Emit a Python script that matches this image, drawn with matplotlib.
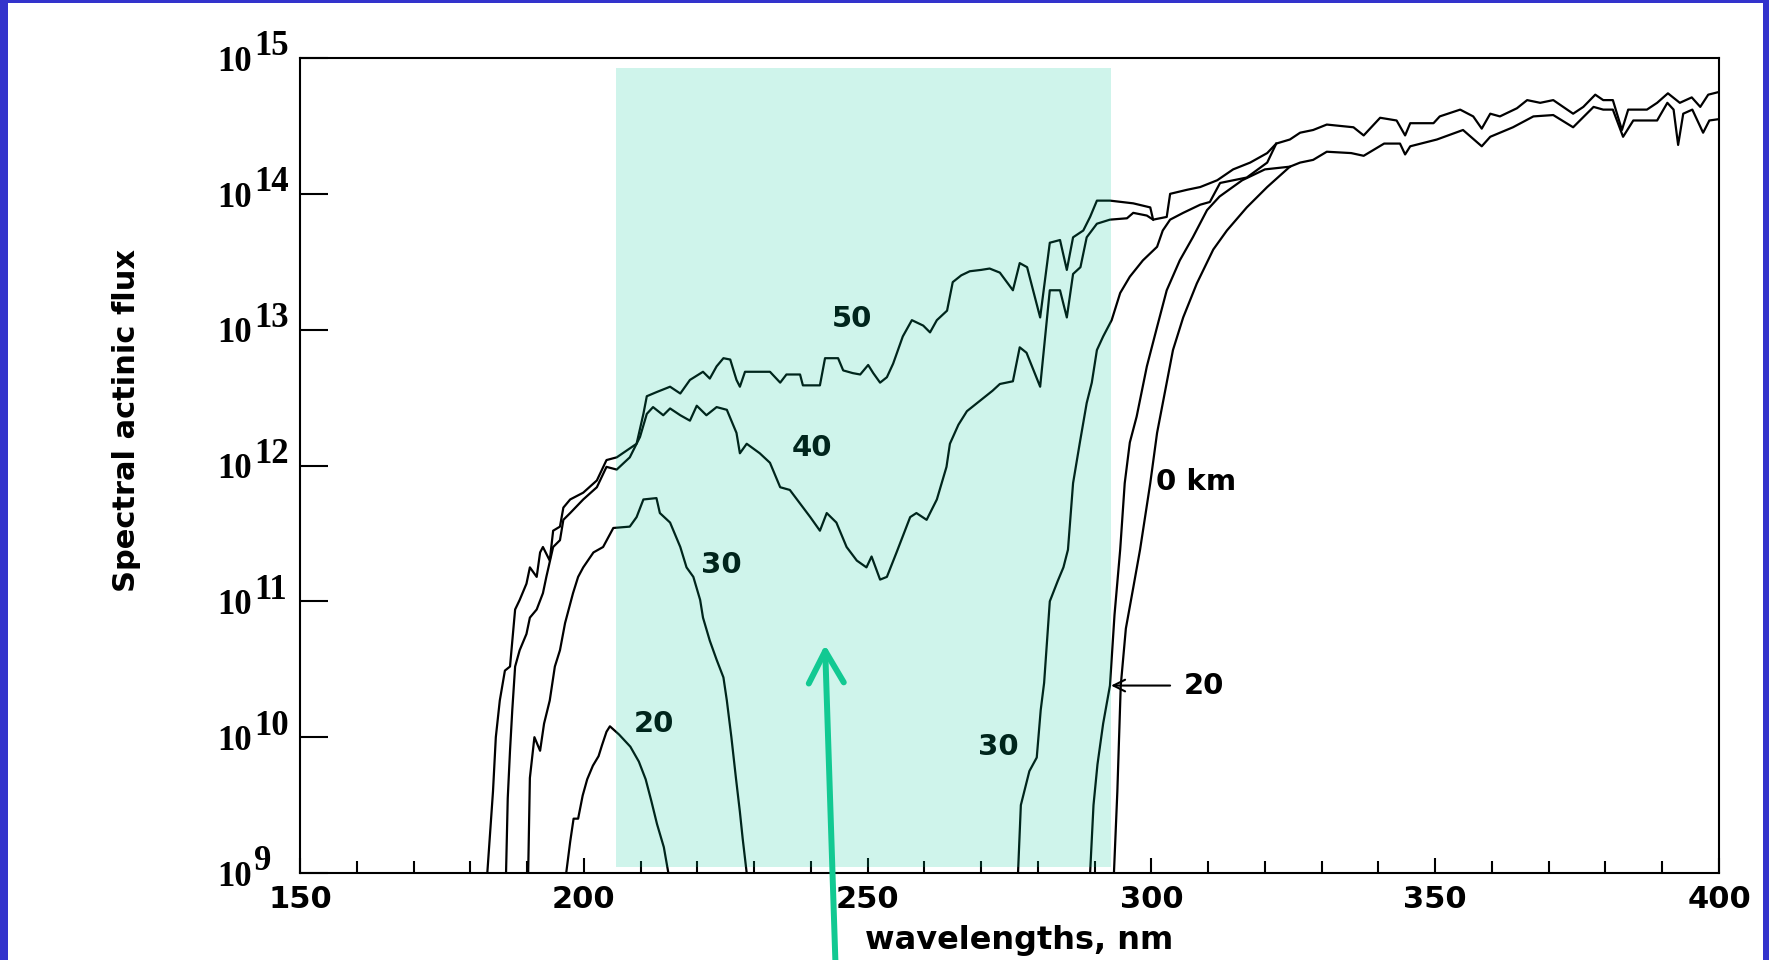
import numpy as np
import matplotlib.pyplot as plt
from matplotlib.patches import Rectangle, FancyArrowPatch
from matplotlib.ticker import NullLocator

# spectral actinic flux, log10 values, by altitude
wl_50 = [183.0, 183.5, 184.0, 184.5, 185.2, 186.1, 187.0, 187.9, 188.7, 189.9,
         190.5, 191.7, 192.3, 192.8, 194.0, 194.6, 195.8, 196.4, 197.6, 199.9,
         202.3, 204.0, 205.8, 209.3, 210.5, 211.1, 212.8, 215.2, 217.0, 218.7,
         221.0, 222.2, 223.4, 224.6, 225.8, 226.9, 227.5, 228.4, 232.8, 234.6,
         235.7, 238.1, 238.6, 241.6, 242.5, 244.8, 245.7, 247.4, 248.7, 250.1,
         251.0, 252.2, 253.4, 254.5, 256.2, 257.8, 259.8, 261.0, 262.2, 264.0,
         265.0, 266.5, 268.0, 270.0, 271.5, 273.3, 275.6, 276.8, 278.1, 280.4,
         282.1, 283.9, 285.1, 286.2, 288.0, 289.2, 290.4, 292.7, 296.8, 299.8,
         300.3, 302.7, 303.3, 306.3, 308.6, 311.6, 314.4, 317.4, 320.4, 322.0,
         324.4, 326.2, 328.5, 330.9, 335.6, 337.4, 340.3, 343.2, 344.7, 345.6,
         349.7, 350.8, 354.4, 356.7, 358.2, 359.7, 361.4, 364.4, 366.2, 368.5,
         370.8, 374.3, 376.1, 378.2, 379.6, 381.3, 382.9, 384.0, 387.3, 389.1,
         391.0, 393.1, 395.2, 396.7, 398.1, 400.0]
lf_50 = [9.0, 9.3, 9.6, 10.0, 10.27, 10.49, 10.52, 10.94, 11.01, 11.13,
         11.25, 11.18, 11.36, 11.40, 11.30, 11.52, 11.55, 11.69, 11.75, 11.80,
         11.89, 12.04, 12.06, 12.16, 12.38, 12.51, 12.54, 12.58, 12.53, 12.63,
         12.69, 12.64, 12.73, 12.79, 12.78, 12.63, 12.58, 12.69, 12.69, 12.61,
         12.67, 12.67, 12.59, 12.59, 12.79, 12.79, 12.70, 12.68, 12.67, 12.74,
         12.68, 12.61, 12.65, 12.75, 12.95, 13.07, 13.03, 12.98, 13.07, 13.14,
         13.35, 13.40, 13.43, 13.44, 13.45, 13.42, 13.29, 13.49, 13.46, 13.09,
         13.64, 13.66, 13.44, 13.68, 13.73, 13.83, 13.95, 13.95, 13.93, 13.90,
         13.81, 13.83, 14.00, 14.03, 14.05, 14.10, 14.18, 14.23, 14.30, 14.37,
         14.40, 14.45, 14.47, 14.51, 14.49, 14.43, 14.56, 14.54, 14.43, 14.52,
         14.52, 14.57, 14.62, 14.57, 14.48, 14.59, 14.57, 14.63, 14.69, 14.67,
         14.69, 14.59, 14.64, 14.73, 14.69, 14.69, 14.47, 14.62, 14.62, 14.67,
         14.74, 14.67, 14.71, 14.64, 14.73, 14.75]

wl_40 = [186.3, 186.6, 187.0, 187.4, 187.9, 188.7, 189.9, 190.5, 191.7, 192.8,
         193.4, 194.6, 195.8, 196.4, 197.6, 199.9, 202.3, 204.0, 205.8, 208.1,
         209.9, 211.1, 212.2, 214.0, 215.2, 217.0, 218.7, 219.9, 221.6, 223.4,
         225.2, 226.9, 227.5, 228.7, 231.0, 232.8, 234.6, 236.3, 238.1, 239.9,
         241.6, 242.8, 244.5, 246.3, 248.1, 249.8, 250.7, 252.2, 253.4, 255.1,
         257.5, 258.6, 260.4, 262.2, 263.9, 264.5, 266.0, 267.5, 269.0, 270.5,
         272.0, 273.3, 275.6, 276.8, 278.0, 280.4, 282.1, 283.9, 285.1, 286.2,
         287.5, 288.6, 290.4, 292.7, 295.7, 296.8, 299.2, 300.3]
lf_40 = [9.0, 9.55, 9.9, 10.2, 10.52, 10.64, 10.76, 10.88, 10.94, 11.06,
         11.18, 11.40, 11.45, 11.60, 11.65, 11.75, 11.84, 11.99, 11.97, 12.06,
         12.21, 12.38, 12.43, 12.37, 12.42, 12.37, 12.33, 12.44, 12.37, 12.43,
         12.41, 12.24, 12.09, 12.16, 12.09, 12.02, 11.84, 11.82, 11.72, 11.62,
         11.52, 11.65, 11.58, 11.40, 11.30, 11.25, 11.33, 11.16, 11.18, 11.36,
         11.62, 11.65, 11.60, 11.75, 11.99, 12.16, 12.30, 12.40, 12.45, 12.50,
         12.55, 12.60, 12.62, 12.87, 12.83, 12.58, 13.29, 13.29, 13.09, 13.41,
         13.46, 13.68, 13.78, 13.81, 13.82, 13.86, 13.84, 13.81]

wl_30_short = [190.2, 190.5, 191.3, 192.3, 193.0, 194.0, 194.9, 195.8, 196.7, 198.1,
               199.0, 199.9, 201.7, 203.4, 205.2, 208.1, 209.3, 210.5, 212.8, 213.4,
               215.2, 217.0, 218.1, 219.3, 220.5, 221.0, 222.2, 223.4, 224.6, 225.2,
               226.0, 226.8, 227.5, 228.0, 228.7]
lf_30_short = [9.0, 9.7, 10.0, 9.9, 10.1, 10.27, 10.52, 10.64, 10.84, 11.06,
               11.18, 11.25, 11.36, 11.40, 11.54, 11.55, 11.62, 11.75, 11.76, 11.65,
               11.58, 11.40, 11.25, 11.18, 11.01, 10.88, 10.71, 10.57, 10.44, 10.27,
               10.0, 9.7, 9.45, 9.25, 9.0]
wl_30_long = [276.5, 277.0, 278.5, 279.8, 280.5, 281.1, 282.1, 283.5, 284.5, 285.3,
              286.2, 287.4, 288.6, 289.5, 290.4, 291.5, 293.0, 294.5, 296.2, 298.5,
              301.0, 302.0, 303.3, 305.6, 308.6, 310.3, 312.1, 316.8, 320.4, 322.0]
lf_30_long = [9.0, 9.5, 9.75, 9.85, 10.2, 10.4, 11.0, 11.15, 11.25, 11.38,
              11.87, 12.17, 12.46, 12.61, 12.85, 12.95, 13.07, 13.27, 13.39, 13.51,
              13.61, 13.73, 13.81, 13.86, 13.92, 13.94, 14.08, 14.12, 14.23, 14.37]

wl_20_short = [196.9, 197.6, 198.2, 199.0, 199.8, 200.6, 201.6, 202.6, 203.2, 204.0,
               204.6, 206.2, 208.2, 209.7, 210.9, 211.9, 212.9, 214.1, 214.9]
lf_20_short = [9.0, 9.23, 9.40, 9.40, 9.57, 9.69, 9.79, 9.86, 9.94, 10.04,
               10.08, 10.02, 9.93, 9.82, 9.69, 9.53, 9.36, 9.19, 9.0]
wl_20_long = [289.2, 289.8, 290.5, 291.5, 292.7, 293.5, 294.5, 295.3, 296.2, 297.4,
              299.2, 301.0, 302.7, 305.0, 307.3, 309.8, 312.0, 316.0, 320.0, 324.4]
lf_20_long = [9.0, 9.5, 9.8, 10.1, 10.38, 10.9, 11.38, 11.87, 12.17, 12.36,
              12.73, 13.02, 13.29, 13.51, 13.68, 13.88, 13.98, 14.10, 14.18, 14.20]

wl_0 = [293.4, 294.0, 294.6, 295.5, 296.8, 298.0, 299.8, 301.0, 302.7, 303.8,
        305.6, 308.0, 310.9, 313.3, 316.8, 320.4, 324.4, 326.2, 328.5, 330.9,
        335.2, 337.4, 341.0, 343.8, 344.7, 345.6, 350.3, 354.9, 358.2, 359.7,
        363.7, 367.3, 370.8, 374.3, 377.9, 379.6, 381.3, 383.1, 384.9, 389.1,
        390.9, 392.0, 392.8, 393.7, 395.3, 397.2, 398.3, 400.0]
lf_0 = [9.0, 9.6, 10.38, 10.8, 11.1, 11.38, 11.87, 12.24, 12.61, 12.85,
        13.09, 13.34, 13.59, 13.73, 13.90, 14.05, 14.20, 14.23, 14.25, 14.31,
        14.30, 14.28, 14.37, 14.37, 14.29, 14.35, 14.40, 14.47, 14.35, 14.42,
        14.49, 14.57, 14.58, 14.49, 14.64, 14.62, 14.62, 14.42, 14.54, 14.54,
        14.67, 14.62, 14.36, 14.59, 14.62, 14.45, 14.54, 14.55]

curves = [(wl_50, lf_50), (wl_40, lf_40), (wl_30_short, lf_30_short),
          (wl_30_long, lf_30_long), (wl_20_short, lf_20_short),
          (wl_20_long, lf_20_long), (wl_0, lf_0)]

# altitude labels: text, wavelength, log10 flux
alt_labels = [('50', 247.3, 13.08), ('40', 240.2, 12.13), ('30', 224.3, 11.27),
              ('20', 212.4, 10.10), ('30', 273.0, 9.93), ('0 km', 307.9, 11.88)]

band = (205.7, 292.9)
xticks = [150, 200, 250, 300, 350, 400]
ydecades = list(range(9, 16))

W, H = 1769, 960
fig = plt.figure(figsize=(W / 100, H / 100), dpi=100, facecolor='#3333cc')
fig.patches.append(Rectangle((8 / W, 0), (1763 - 8) / W, 957 / H,
                             transform=fig.transFigure, facecolor='white',
                             edgecolor='none', zorder=-10))

ax = fig.add_axes([300 / W, 87 / H, 1419 / W, 815 / H])
ax.set_facecolor('none')

for wl, lf in curves:
    ax.plot(wl, 10 ** np.array(lf), color='black', lw=1.6, zorder=2)

ax.set_yscale('log')
ax.set_xlim(150, 400)
ax.set_ylim(1e9, 1e15)

ax.set_xticks(xticks, [str(t) for t in xticks], fontsize=22, fontweight='bold')
ax.set_xticks(np.arange(150, 401, 10), minor=True)
ax.tick_params(axis='x', which='major', direction='in', length=11, width=1.5, pad=9)
ax.tick_params(axis='x', which='minor', direction='in', length=8.5, width=1.5)
ax.set_yticks([10.0 ** e for e in ydecades])
ax.yaxis.set_minor_locator(NullLocator())
ax.tick_params(axis='y', direction='in', length=20, width=1.5, labelleft=False)
for sp in ax.spines.values():
    sp.set_linewidth(1.5)

# power-of-ten labels with a full size exponent
for e in ydecades:
    ax.annotate('10', xy=(0, 10.0 ** e), xycoords=('axes fraction', 'data'),
                xytext=(-35, -3), textcoords='offset points', ha='right', va='center',
                fontsize=25, fontweight='bold', family='Liberation Serif')
    ax.annotate(str(e), xy=(0, 10.0 ** e), xycoords=('axes fraction', 'data'),
                xytext=(-33, 8), textcoords='offset points', ha='left', va='center',
                fontsize=25, fontweight='bold', family='Liberation Serif')

for txt, x, y in alt_labels:
    ax.text(x, 10 ** y, txt, ha='center', va='center', fontsize=21,
            fontweight='bold', zorder=2.5)

ax.annotate('20', xy=(292.9, 10 ** 10.38), xytext=(309.3, 10 ** 10.38),
            ha='center', va='center', fontsize=21, fontweight='bold',
            arrowprops=dict(arrowstyle='->', color='black', lw=1.5,
                            shrinkA=8, shrinkB=0))

# ozone absorption band
ax.axvspan(band[0], band[1], ymin=0.0074, ymax=0.988, facecolor='#00c896',
           alpha=0.19, lw=0, zorder=3)

arrow = FancyArrowPatch((244.6, 10 ** 8.0), (242.5, 10 ** 10.68),
                        arrowstyle='->,head_length=1.15,head_width=0.63',
                        mutation_scale=20, color='#12c992', lw=4.3,
                        shrinkA=0, shrinkB=0, capstyle='round', joinstyle='round',
                        clip_on=False, zorder=5)
ax.add_patch(arrow)

fig.text(126 / W, 1 - 420 / H, 'Spectral actinic flux', rotation=90,
         ha='center', va='center', fontsize=22, fontweight='bold')
fig.text(1019 / W, 1 - 940 / H, 'wavelengths, nm', ha='center', va='center',
         fontsize=23, fontweight='bold')

fig.savefig('out.png', dpi=100, facecolor=fig.get_facecolor())
